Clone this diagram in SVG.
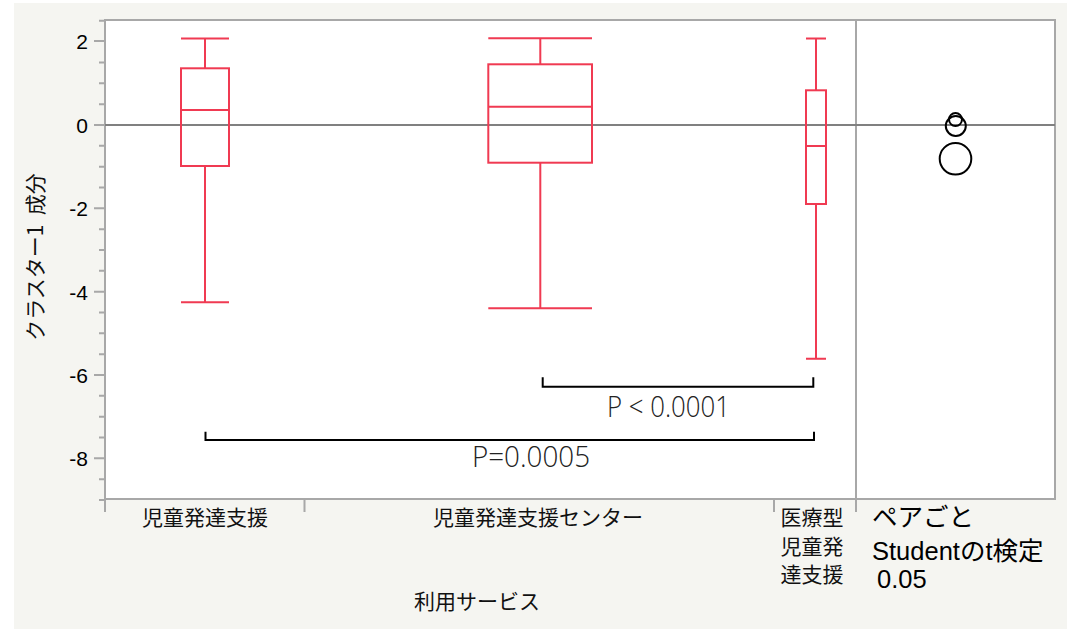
<svg xmlns="http://www.w3.org/2000/svg" width="1067" height="629" viewBox="0 0 1067 629">
<style>
.frame{fill:#ffffff;stroke:#a8a8a8;stroke-width:2}
.ax{stroke:#a8a8a8;stroke-width:2;fill:none}
.zero{stroke:#808080;stroke-width:2}
.box{fill:none;stroke:#f03a52;stroke-width:2}
.br{fill:none;stroke:#000;stroke-width:2}
.circ{fill:none;stroke:#000;stroke-width:2}
.num{font-family:"Liberation Sans",Arial,sans-serif;font-size:21px;fill:#000;text-anchor:end}
.jp{font-family:"Noto Sans CJK JP","Noto Sans",sans-serif;font-size:21px;fill:#111}
.pv{font-family:"Open Sans","Noto Sans",sans-serif;font-size:29px;font-weight:300;fill:#222}
.leg{font-family:"Liberation Sans","Noto Sans CJK JP",sans-serif;font-size:25.5px;fill:#000}
</style>
<rect x="14" y="3" width="1053" height="626" fill="#f5f5f1"/>
<g id="plot-frame">
<rect class="frame" x="105" y="20" width="950" height="479"/>
<line class="ax" x1="856" y1="20" x2="856" y2="499"/>
<line class="zero" x1="105" y1="125" x2="1055" y2="125"/>
</g>
<g id="y-axis">
<path class="ax" d="M94 41H105M94 125H105M94 208.3H105M94 291.7H105M94 375H105M94 458.3H105"/>
<path class="ax" d="M99 20.8H105M99 62.5H105M99 83.3H105M99 104.2H105M99 145.8H105M99 166.7H105M99 187.5H105M99 229.2H105M99 250H105M99 270.8H105M99 312.5H105M99 333.3H105M99 354.2H105M99 395.8H105M99 416.7H105M99 437.5H105M99 479.2H105M99 500H105"/>
<text class="num" x="88" y="48.5">2</text>
<text class="num" x="88" y="132.5">0</text>
<text class="num" x="88" y="216">-2</text>
<text class="num" x="88" y="299.5">-4</text>
<text class="num" x="88" y="382.5">-6</text>
<text class="num" x="88" y="466">-8</text>
<text class="jp" transform="translate(43 257) rotate(-90)" text-anchor="middle" xml:space="preserve">クラスター1  成分</text>
</g>
<g id="x-axis">
<path class="ax" d="M105 499V512M304.5 499V512M774 499V512M856 499V512"/>
<text class="jp" x="205" y="525" text-anchor="middle">児童発達支援</text>
<text class="jp" x="538" y="525" text-anchor="middle">児童発達支援センター</text>
<text class="jp" x="812" y="525" text-anchor="middle">医療型</text>
<text class="jp" x="812" y="553.5" text-anchor="middle">児童発</text>
<text class="jp" x="812" y="582" text-anchor="middle">達支援</text>
<text class="jp" x="477" y="609" text-anchor="middle">利用サービス</text>
</g>
<g id="box-jidou">
<path class="box" d="M181 38.5H229M205 38.5V68.3M205 166V302.3M181 302.3H229"/>
<rect class="box" x="181" y="68.3" width="48" height="97.7"/>
<line class="box" x1="181" y1="110" x2="229" y2="110"/>
</g>
<g id="box-center">
<path class="box" d="M488.3 38.3H592M540.3 38.3V64.3M540.3 162.7V308.3M488.3 308.3H592"/>
<rect class="box" x="488.3" y="64.3" width="103.7" height="98.4"/>
<line class="box" x1="488.3" y1="106.7" x2="592" y2="106.7"/>
</g>
<g id="box-iryou">
<path class="box" d="M806 38.5H826M816 38.5V90.3M816 204V358.7M806 358.7H826"/>
<rect class="box" x="806" y="90.3" width="20" height="113.7"/>
<line class="box" x1="806" y1="146" x2="826" y2="146"/>
</g>
<g id="connectors">
<path class="br" d="M542.7 377.3V386.7H813.3V377.3"/>
<path class="br" d="M205.5 431.7V440H814V431.7"/>
</g>
<g id="p-labels">
<text class="pv" x="607" y="416.5" textLength="123" lengthAdjust="spacingAndGlyphs">P &lt; 0.0001</text>
<text class="pv" x="472" y="467" textLength="118" lengthAdjust="spacingAndGlyphs">P=0.0005</text>
</g>
<g id="comparison-circles">
<circle class="circ" cx="955.5" cy="119.5" r="6.5"/>
<circle class="circ" cx="955.8" cy="126" r="10"/>
<circle class="circ" cx="955.5" cy="158.8" r="15.8"/>
</g>
<g id="legend">
<text class="leg" x="872" y="526">ペアごと</text>
<text class="leg" x="872" y="560">Studentのt検定</text>
<text class="leg" x="877" y="588">0.05</text>
</g>
</svg>
